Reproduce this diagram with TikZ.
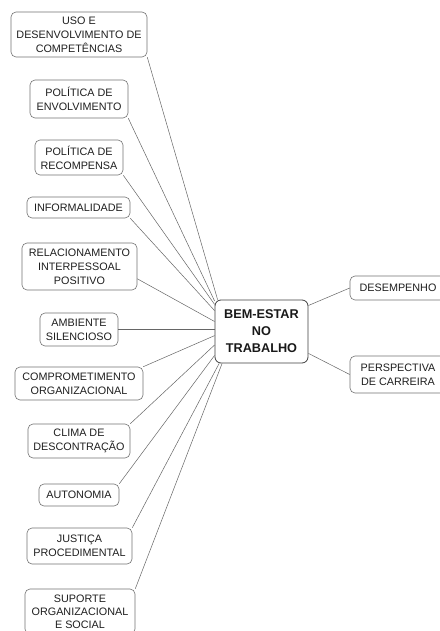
\documentclass[tikz,border=0pt]{standalone}
\usepackage{fontspec}
\setmainfont{Liberation Sans}
\begin{document}
\begin{tikzpicture}[x=1pt,y=-1pt,
  leaf/.style={draw=black!55, line width=0.6pt, rounded corners=5pt, inner sep=0pt,
    align=center, text=black!88, font=\fontsize{10.8}{13.8}\selectfont},
  hub/.style={draw=black!75, line width=0.8pt, rounded corners=6pt, inner sep=0pt,
    align=center, text=black!90, font=\bfseries\fontsize{12.7}{17}\selectfont,
    minimum width=93pt, minimum height=63pt},
  link/.style={draw=black!60, line width=0.5pt}]
\useasboundingbox (0,0) rectangle (439,631);
\fill[white] (0,0) rectangle (439,631);

\node[hub] (c) at (261.5,331.5) {BEM-ESTAR\\NO\\TRABALHO};

\node[leaf, minimum width=136pt, minimum height=45pt] (n1) at (79,34.5) {USO E\\DESENVOLVIMENTO DE\\COMPETÊNCIAS};
\node[leaf, minimum width=98pt, minimum height=38pt] (n2) at (79,99) {POLÍTICA DE\\ENVOLVIMENTO};
\node[leaf, minimum width=88pt, minimum height=35pt] (n3) at (79,157.5) {POLÍTICA DE\\RECOMPENSA};
\node[leaf, minimum width=103pt, minimum height=21pt] (n4) at (78.5,207.5) {INFORMALIDADE};
\node[leaf, minimum width=115pt, minimum height=47pt] (n5) at (79.5,266.5) {RELACIONAMENTO\\INTERPESSOAL\\POSITIVO};
\node[leaf, minimum width=78pt, minimum height=33pt] (n6) at (79,329.5) {AMBIENTE\\SILENCIOSO};
\node[leaf, minimum width=128pt, minimum height=33pt] (n7) at (79,383.5) {COMPROMETIMENTO\\ORGANIZACIONAL};
\node[leaf, minimum width=102pt, minimum height=34pt] (n8) at (79,441) {CLIMA DE\\DESCONTRAÇÃO};
\node[leaf, minimum width=80pt, minimum height=22pt] (n9) at (79,495) {AUTONOMIA};
\node[leaf, minimum width=105pt, minimum height=36pt] (n10) at (79.5,546) {JUSTIÇA\\PROCEDIMENTAL};
\node[leaf, minimum width=110pt, minimum height=45pt, font=\fontsize{10.8}{13}\selectfont] (n11) at (80,611.5) {SUPORTE\\ORGANIZACIONAL\\E SOCIAL};

\node[leaf, minimum width=96pt, minimum height=24pt] (d) at (398,288) {DESEMPENHO};
\node[leaf, minimum width=96pt, minimum height=37pt] (p) at (398,374.5) {PERSPECTIVA\\DE CARREIRA};

\draw[link] (n1.south east) -- (c.144);
\draw[link] (n2.south east) -- (c.147);
\draw[link] (n3.south east) -- (c.150);
\draw[link] (n4.south east) -- (c.156);
\draw[link] (n5.-12) -- (c.168.5);
\draw[link] (n6.east) -- (n6.east -| c.west);
\draw[link] (n7.north east) -- (c.185.5);
\draw[link] (n8.north east) -- (c.196);
\draw[link] (n9.north east) -- (c.207);
\draw[link] (n10.north east) -- (c.217);
\draw[link] (n11.north east) -- (c.219);
\draw[link] (c.29.7) -- (d.west);
\draw[link] (c.335) -- (p.west);
\end{tikzpicture}
\end{document}
